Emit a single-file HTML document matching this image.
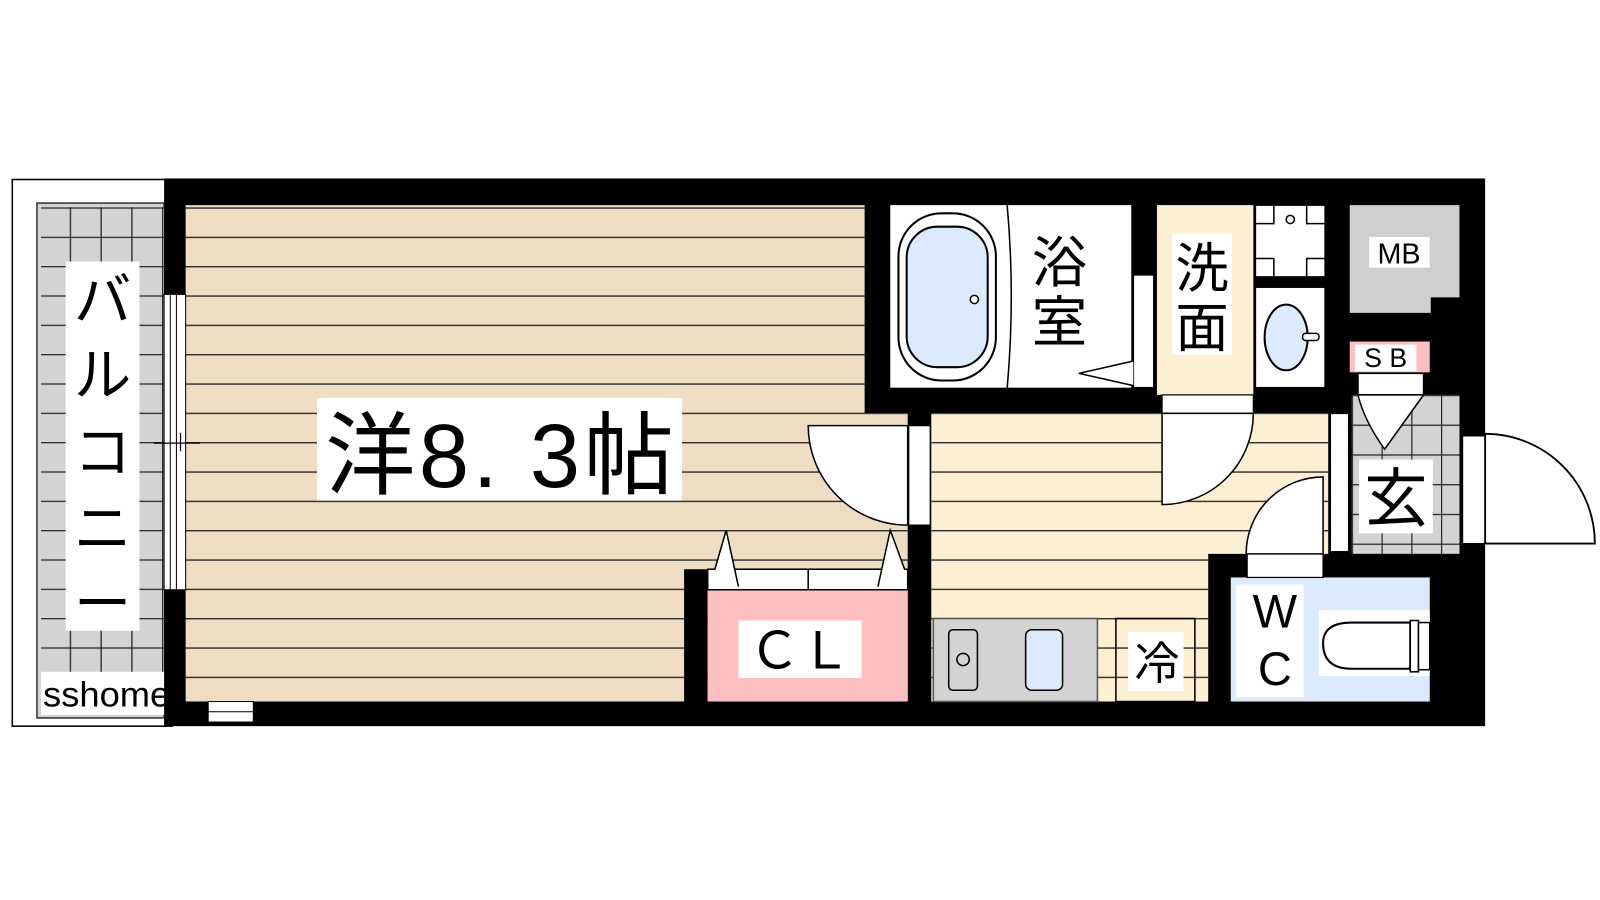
<!DOCTYPE html>
<html><head><meta charset="utf-8"><style>html,body{margin:0;padding:0;background:#fff;width:1600px;height:900px;overflow:hidden}svg{display:block}
text{font-family:"Liberation Sans","Noto Sans CJK JP",sans-serif;fill:#000}</style></head><body>
<svg width="1600" height="900" viewBox="0 0 1560 877.5" xmlns="http://www.w3.org/2000/svg">
<defs>
<pattern id="lines" x="0" y="2" width="10" height="28.6" patternUnits="userSpaceOnUse"><rect width="10" height="28.6" fill="none"/><line x1="0" y1="0.5" x2="10" y2="0.5" stroke="#222" stroke-width="1.6"/></pattern>
<pattern id="grid" x="8" y="2" width="30" height="28.6" patternUnits="userSpaceOnUse"><rect width="30" height="28.6" fill="#d3d3d3"/><line x1="0" y1="0.5" x2="30" y2="0.5" stroke="#222" stroke-width="1.5"/><line x1="0.5" y1="0" x2="0.5" y2="28.6" stroke="#222" stroke-width="1.5"/></pattern>
<pattern id="grid2" x="1318" y="385" width="29" height="29" patternUnits="userSpaceOnUse"><rect width="29" height="29" fill="#d3d3d3"/><line x1="0" y1="0.5" x2="29" y2="0.5" stroke="#222" stroke-width="1.3"/><line x1="0.5" y1="0" x2="0.5" y2="29" stroke="#222" stroke-width="1.3"/></pattern>
</defs>
<rect x="12" y="175" width="156" height="533" fill="#fff" stroke="#000" stroke-width="1.5"/>
<rect x="36" y="198" width="124" height="502" fill="#d3d3d3" stroke="#333" stroke-width="1.5"/>
<rect x="40" y="202" width="120" height="494" fill="url(#grid)"/>
<rect x="64" y="255" width="72" height="360" fill="#fff"/>
<text x="100" y="312" font-size="56" text-anchor="middle">バ</text>
<text x="100" y="385" font-size="56" text-anchor="middle">ル</text>
<text x="100" y="460" font-size="56" text-anchor="middle">コ</text>
<text x="100" y="535" font-size="56" text-anchor="middle">ニ</text>
<text x="100" y="608" font-size="56" text-anchor="middle">ー</text>
<rect x="40" y="655" width="130" height="42" fill="#fff"/>
<text x="104" y="689" font-size="34" text-anchor="middle" textLength="124" lengthAdjust="spacingAndGlyphs">sshome</text>
<rect x="160" y="174" width="1288" height="534" fill="#000"/>
<path d="M181,200 H843 V403 H885 V684 H181 Z" fill="#eedcc3"/>
<path d="M181,200 H843 V403 H885 V684 H181 Z" fill="url(#lines)"/>
<rect x="160" y="287" width="21" height="288" fill="#fff" stroke="#000" stroke-width="1"/>
<line x1="166" y1="287" x2="166" y2="575" stroke="#000" stroke-width="1"/>
<line x1="172" y1="287" x2="172" y2="575" stroke="#000" stroke-width="1"/>
<line x1="150" y1="432" x2="195" y2="432" stroke="#000" stroke-width="1.2"/>
<line x1="176" y1="422" x2="176" y2="440" stroke="#000" stroke-width="1.2"/>
<rect x="203" y="684" width="44" height="20" fill="#fff" stroke="#000" stroke-width="1"/>
<line x1="203" y1="694" x2="247" y2="694" stroke="#000"/>
<rect x="309" y="388" width="356" height="100" fill="#fff"/>
<text x="487" y="475" font-size="88" text-anchor="middle" textLength="340" lengthAdjust="spacing">洋8. 3帖</text>
<rect x="667" y="555" width="23" height="129" fill="#000"/>
<rect x="690" y="555" width="195" height="20" fill="#fff" stroke="#000" stroke-width="1.5"/>
<line x1="788" y1="555" x2="788" y2="575" stroke="#000" stroke-width="1.5"/>
<rect x="690" y="576" width="195" height="108" fill="#fdbfbf"/>
<path d="M697,555 L708,517 L720,572" fill="#fff" stroke="#000" stroke-width="1.5"/>
<path d="M856,572 L868,517 L882,555" fill="#fff" stroke="#000" stroke-width="1.5"/>
<rect x="720" y="605" width="120" height="56" fill="#fff"/>
<text x="780" y="652" font-size="50" text-anchor="middle">ＣＬ</text>
<path d="M908,403 H1295 V540 H1178 V684 H908 Z" fill="#fdf0d2"/>
<path d="M908,403 H1295 V540 H1178 V684 H908 Z" fill="url(#lines)"/>
<rect x="886" y="415" width="21" height="97" fill="#fff" stroke="#000" stroke-width="1.2"/>
<path d="M885,512 L885,415 L788,415 A97,97 0 0,0 885,512 Z" fill="#fff" stroke="#000" stroke-width="1.5"/>
<rect x="868" y="200" width="235" height="178" fill="#fff"/>
<rect x="876" y="208" width="95" height="163" rx="42" fill="#fff" stroke="#000" stroke-width="2"/>
<rect x="884" y="221" width="79" height="137" rx="30" fill="#dbeafd" stroke="#000" stroke-width="2"/>
<circle cx="950" cy="292" r="4" fill="#fff" stroke="#000" stroke-width="1.5"/>
<path d="M982,200 Q990,289 982,378" fill="none" stroke="#000" stroke-width="1.5"/>
<text x="1033" y="275" font-size="54" text-anchor="middle">浴</text>
<text x="1033" y="333" font-size="54" text-anchor="middle">室</text>
<rect x="1105" y="268" width="20" height="110" fill="#fff" stroke="#000" stroke-width="1.5"/>
<path d="M1105,352 L1052,364 L1105,376" fill="#fff" stroke="#000" stroke-width="1.5"/>
<rect x="1128" y="200" width="94" height="185" fill="#fdf0d2"/>
<rect x="1143" y="228" width="58" height="118" fill="#fff"/>
<text x="1172" y="280" font-size="52" text-anchor="middle">洗</text>
<text x="1172" y="338" font-size="52" text-anchor="middle">面</text>
<rect x="1224" y="200" width="68" height="70" fill="#fff" stroke="#000" stroke-width="1.5"/>
<path d="M1242,200 V218 H1224 M1274,200 V218 H1292 M1224,252 H1242 V270 M1292,252 H1274 V270" fill="none" stroke="#000" stroke-width="1.5"/>
<circle cx="1258" cy="214" r="4" fill="#fff" stroke="#000" stroke-width="1.5"/>
<rect x="1224" y="280" width="68" height="98" fill="#fff" stroke="#000" stroke-width="1.5"/>
<ellipse cx="1254" cy="329" rx="21" ry="32" fill="#dbeafd" stroke="#000" stroke-width="2"/>
<rect x="1270" y="325" width="16" height="7" rx="3" fill="#fff" stroke="#000" stroke-width="1.5"/>
<rect x="1133" y="385" width="89" height="18" fill="#fff" stroke="#000" stroke-width="1.2"/>
<path d="M1133,403 L1222,403 A89,89 0 0,1 1133,492 Z" fill="#fff" stroke="#000" stroke-width="1.5"/>
<path d="M1316,200 H1423 V290 H1395 V305 H1316 Z" fill="#cfcfcf"/>
<rect x="1335" y="231" width="59" height="30" fill="#fff"/>
<text x="1364" y="257" font-size="28" text-anchor="middle">MB</text>
<rect x="1316" y="333" width="78" height="30" fill="#fdbfbf"/>
<rect x="1321" y="336" width="60" height="26" fill="#fff"/>
<text x="1351" y="358" font-size="26" text-anchor="middle">S B</text>
<rect x="1318" y="385" width="105" height="155" fill="url(#grid2)"/>
<rect x="1324" y="364" width="64" height="21" fill="#fff" stroke="#000" stroke-width="1.5"/>
<path d="M1324,385 Q1330,410 1350,438 L1388,385 Z" fill="#fff" stroke="#000" stroke-width="1.5"/>
<rect x="1297" y="403" width="18" height="135" fill="#fff" stroke="#000" stroke-width="1.5"/>
<rect x="1325" y="448" width="72" height="72" fill="#fff"/>
<text x="1361" y="508" font-size="62" text-anchor="middle">玄</text>
<rect x="1426" y="425" width="22" height="105" fill="#fff" stroke="#000" stroke-width="1.2"/>
<path d="M1448,530 L1448,423 A107,107 0 0,1 1555,530 Z" fill="#fff" stroke="#000" stroke-width="1.8"/>
<rect x="1200" y="563" width="194" height="121" fill="#dbeafd"/>
<rect x="1216" y="540" width="74" height="23" fill="#fff" stroke="#000" stroke-width="1.2"/>
<path d="M1290,540 L1290,465 A75,75 0 0,0 1215,540 Z" fill="#fff" stroke="#000" stroke-width="1.5"/>
<rect x="1205" y="570" width="66" height="110" fill="#fff"/>
<text x="1243" y="612" font-size="46" text-anchor="middle">W</text>
<text x="1243" y="668" font-size="46" text-anchor="middle">C</text>
<rect x="1286" y="595" width="108" height="64" fill="#fff"/>
<path d="M1375,607 H1318 Q1290,607 1290,627 Q1290,652 1318,652 H1375 Z" fill="#fff" stroke="#000" stroke-width="2"/>
<rect x="1375" y="605" width="8" height="50" fill="#fff" stroke="#000" stroke-width="1.5"/>
<rect x="1383" y="607" width="11" height="46" fill="#fff" stroke="#000" stroke-width="1.5"/>
<rect x="910" y="603" width="160" height="81" fill="#d3d3d3" stroke="#555" stroke-width="1.5"/>
<rect x="925" y="614" width="28" height="59" rx="4" fill="#d3d3d3" stroke="#000" stroke-width="1.5"/>
<circle cx="939" cy="643" r="6" fill="none" stroke="#000" stroke-width="1.5"/>
<rect x="1000" y="614" width="36" height="59" rx="6" fill="#dbeafd" stroke="#000" stroke-width="1.5"/>
<rect x="1088" y="603" width="77" height="81" fill="none" stroke="#000" stroke-width="1.5"/>
<rect x="1100" y="616" width="54" height="58" fill="#fff"/>
<text x="1128" y="662" font-size="44" text-anchor="middle">冷</text>
</svg>
</body></html>
